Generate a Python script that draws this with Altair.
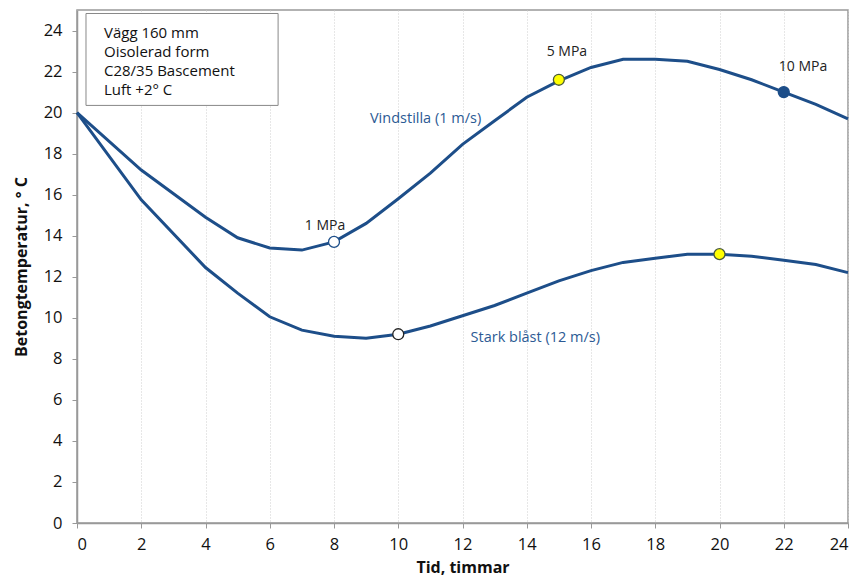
import altair as alt
import pandas as pd

# Series data
hours = [0, 2, 4, 5, 6, 7, 8, 9, 10, 11, 12, 13, 14, 15, 16, 17, 18, 19, 20, 21, 22, 23, 24]
vindstilla = [20.0, 17.2, 14.9, 13.9, 13.4, 13.3, 13.7, 14.6, 15.8, 17.05, 18.45, 19.6, 20.75, 21.55,
              22.2, 22.6, 22.6, 22.5, 22.1, 21.6, 21.0, 20.4, 19.7]
stark = [20.0, 15.75, 12.45, 11.2, 10.05, 9.4, 9.1, 9.0, 9.2, 9.6, 10.1, 10.6, 11.2, 11.8,
         12.3, 12.7, 12.9, 13.1, 13.1, 13.0, 12.8, 12.6, 12.2]

# Strength markers
mark_x = [8, 15, 22, 10, 20]
mark_y = [13.7, 21.6, 21.0, 9.2, 13.1]
mark_fill = ["#ffffff", "#ffff00", "#1d4e89", "#ffffff", "#ffff00"]
mark_stroke = ["#1d4e89", "#4a5a3a", "#1d4e89", "#222222", "#4a5a3a"]

# Annotations
lab_text = ["1 MPa", "5 MPa", "10 MPa"]
lab_x = [7.72, 15.25, 22.6]
lab_y = [14.45, 22.95, 22.2]

series_text = ["Vindstilla (1 m/s)", "Stark blåst (12 m/s)"]
series_x = [9.12, 12.25]
series_y = [19.7, 9.0]

info_lines = ["Vägg 160 mm", "Oisolerad form", "C28/35 Bascement", "Luft +2° C"]
info_y = [23.9, 22.97, 22.05, 21.12]

LINE = "#1d4e89"
FONT = "Open Sans"

df = pd.DataFrame({
    "x": hours * 2,
    "y": vindstilla + stark,
    "s": ["Vindstilla"] * len(hours) + ["Stark"] * len(hours),
})
pts = pd.DataFrame({"x": mark_x, "y": mark_y, "fill": mark_fill, "stroke": mark_stroke})
labs = pd.DataFrame({"t": lab_text, "x": lab_x, "y": lab_y})
stx = pd.DataFrame({"t": series_text, "x": series_x, "y": series_y})
box = pd.DataFrame({"x": [0.28], "x2": [6.26], "y": [20.35], "y2": [24.83]})
info = pd.DataFrame({"t": info_lines, "x": [0.84] * 4, "y": info_y})

xs = alt.Scale(domain=[0, 24], nice=False, zero=False)
ys = alt.Scale(domain=[0, 25], nice=False)

xaxis = alt.Axis(
    title="Tid, timmar", values=list(range(0, 25, 2)), grid=True, gridDash=[1, 2],
    gridColor="#cfcfcf", gridWidth=1, domainColor="#999999", domainWidth=1.5,
    tickColor="#999999", tickSize=5, labelFontSize=16.5, labelColor="#111111",
    labelFont=FONT, labelPadding=8, titleFont=FONT, titleFontSize=16,
    titleFontWeight="bold", titleColor="#111111", titlePadding=7,
)
yaxis = alt.Axis(
    title="Betongtemperatur, ° C", values=list(range(0, 25, 2)), grid=False,
    domainColor="#999999", domainWidth=1.5, tickColor="#999999", tickSize=5,
    labelFontSize=16.5, labelColor="#111111", labelFont=FONT, labelPadding=10,
    titleFont=FONT, titleFontSize=16, titleFontWeight="bold", titleColor="#111111",
    titlePadding=14,
)

lines = alt.Chart(df).mark_line(color=LINE, strokeWidth=3).encode(
    x=alt.X("x:Q", scale=xs, axis=xaxis),
    y=alt.Y("y:Q", scale=ys, axis=yaxis),
    detail="s:N",
)

points = alt.Chart(pts).mark_point(shape="circle", size=120, filled=False, strokeWidth=1.3, opacity=1).encode(
    x="x:Q", y="y:Q",
    fill=alt.Fill("fill:N", scale=None),
    stroke=alt.Stroke("stroke:N", scale=None),
)

mpa = alt.Chart(labs).mark_text(font=FONT, fontSize=14, color="#222222").encode(
    x="x:Q", y="y:Q", text="t:N"
)

stext = alt.Chart(stx).mark_text(font=FONT, fontSize=14.5, color="#2c5a94", align="left").encode(
    x="x:Q", y="y:Q", text="t:N"
)

boxl = alt.Chart(box).mark_rect(fill="white", stroke="#888888", strokeWidth=1).encode(
    x="x:Q", x2="x2:Q", y="y:Q", y2="y2:Q"
)
infol = alt.Chart(info).mark_text(font=FONT, fontSize=15, color="#111111", align="left").encode(
    x="x:Q", y="y:Q", text="t:N"
)

chart = alt.layer(lines, points, mpa, stext, boxl, infol).properties(
    width=771, height=513,
    autosize=alt.AutoSizeParams(type="none"),
    padding={"left": 77, "top": 10, "right": 10, "bottom": 57},
    background="white",
).configure_view(stroke="#999999", strokeWidth=1.5)

chart.save("out.html", embed_options={"renderer": "svg", "actions": False})
